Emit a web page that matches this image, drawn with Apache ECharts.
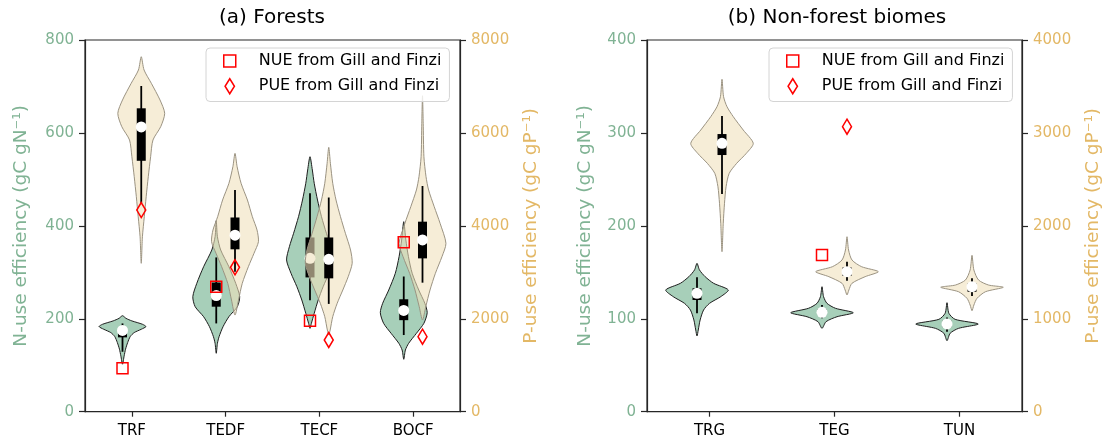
<!DOCTYPE html>
<html><head><meta charset="utf-8">
<script src="https://cdn.jsdelivr.net/npm/echarts@6/dist/echarts.min.js"></script>
<style>html,body{margin:0;padding:0;background:#fff}#chart{width:1104px;height:441px}</style>
</head><body><div id="chart"></div>
<script>
// ---------------- DATA ----------------
const forestCats = ['TRF', 'TEDF', 'TECF', 'BOCF'];
const nonForestCats = ['TRG', 'TEG', 'TUN'];

const nTicksForest = [0, 200, 400, 600, 800];
const pTicksForest = [0, 2000, 4000, 6000, 8000];
const nTicksNonForest = [0, 100, 200, 300, 400];
const pTicksNonForest = [0, 1000, 2000, 3000, 4000];

// violin profiles: [value, relative density], top to bottom
const forestNViolins = [
  [[206.6,0],[200.9,0.15],[195.4,0.4],[188.2,0.85],[183.2,1],[177.4,0.8],[170.3,0.5],[161.7,0.33],[148.8,0.22],[134.5,0.13],[120.1,0.07],[102.2,0]],
  [[411,0],[376.6,0.05],[348,0.19],[312,0.54],[276.3,0.83],[247.5,1],[226,0.9],[204.5,0.54],[183,0.29],[161.4,0.12],[147.2,0.05],[125.7,0]],
  [[548.8,0],[520.2,0.1],[491.6,0.18],[455.6,0.32],[419.7,0.49],[384,0.7],[355.1,0.88],[326.5,1],[297.9,0.81],[269,0.56],[240.4,0.35],[211.8,0.18],[190.3,0.06],[179.4,0]],
  [[409,0],[369.5,0.09],[333.6,0.2],[297.9,0.36],[261.9,0.64],[233.3,0.9],[213.1,1],[190.3,0.86],[168.7,0.54],[147.2,0.21],[132.8,0.07],[112.8,0]]
];
const forestPViolins = [
  [[7640,0],[7354,0.12],[7068,0.43],[6709,0.8],[6422,1],[6134,0.83],[5848,0.5],[5488,0.4],[5058,0.3],[4627,0.21],[4197,0.13],[3766,0.05],[3194,0]],
  [[5560,0],[5273,0.09],[4915,0.26],[4556,0.53],[4197,0.74],[3910,0.94],[3659,1],[3409,0.81],[3121,0.57],[2763,0.31],[2404,0.15],[2080,0]],
  [[5690,0],[5346,0.07],[4916,0.17],[4556,0.31],[4197,0.5],[3840,0.71],[3480,0.93],[3194,1],[2906,0.83],[2619,0.6],[2333,0.36],[2045,0.17],[1758,0.06],[1650,0]],
  [[6800,0],[6207,0.03],[5488,0.06],[5058,0.15],[4772,0.26],[4412,0.5],[4055,0.75],[3624,1],[3336,0.83],[2979,0.55],[2619,0.32],[2260,0.14],[1974,0]]
];
const nonForestNViolins = [
  [[159.7,0],[152.5,0.08],[145.3,0.26],[138.2,0.53],[131,1],[123.8,0.76],[116.6,0.4],[109.4,0.21],[98.7,0.1],[87.9,0.04],[81.5,0]],
  [[134.5,0],[123.8,0.05],[116.6,0.16],[111.3,0.43],[106.5,1],[102.2,0.48],[96.9,0.13],[89.7,0]],
  [[117.3,0],[105.9,0.06],[99.4,0.26],[94.4,1],[89.7,0.37],[84.4,0.1],[76.4,0]]
];
const nonForestPViolins = [
  [[3577,0],[3390,0.05],[3282,0.16],[3175,0.36],[3031,0.68],[2888,1],[2781,0.78],[2673,0.47],[2565,0.23],[2421,0.13],[2243,0.08],[2027,0.04],[1722,0]],
  [[1883,0],[1740,0.05],[1632,0.16],[1560,0.47],[1507,1],[1453,0.58],[1382,0.16],[1310,0.06],[1256,0]],
  [[1683,0],[1525,0.06],[1417,0.21],[1363,0.53],[1339,1],[1291,0.43],[1220,0.16],[1148,0.06],[1087,0]]
];

// box stats: [whiskerLow, q1, median, q3, whiskerHigh]
const forestNBoxes = [[129,160,175,180,190],[190,226,250,278,332],[240,289,330,375,470],[165,197,218,242,291]];
const forestPBoxes = [[4485,5400,6130,6530,7010],[3010,3495,3800,4180,4770],[2320,2870,3280,3750,4610],[2777,3300,3696,4090,4858]];
const nonForestNBoxes = [[105.9,120.2,127.4,132.8,144.6],[100.5,104.5,106.9,110.6,114.8],[86,91,94.4,98,101.3]];
const nonForestPBoxes = [[2343,2762,2888,2988,3182],[1410,1460,1507,1553,1614],[1245,1291,1345,1380,1435]];

// Gill and Finzi reference values
const forestNUE = [93.4, 269, 196, 364.6];
const forestPUE = [4340, 3108, 1543, 1614];
const nonForestNUE = [null, 168.6, null];
const nonForestPUE = [null, 3067, null];

const NUE_NAME = 'NUE from Gill and Finzi';
const PUE_NAME = 'PUE from Gill and Finzi';

// ---------------- STYLE ----------------
const FONT = 'DejaVu Sans';
const GREEN_TXT = '#80b394';
const TAN_TXT = '#e3b866';
const GREEN_FILL = '#a7cfb9';
const GREEN_EDGE = '#1e1e1e';
const TAN_FILL = 'rgba(240,225,188,0.6)';
const TAN_EDGE = '#9b9382';
const AXIS_COL = '#262626';
const OFFSET = 0.1;      // fraction of band
const HALF = 0.25;       // violin max half width, fraction of band

function violinRender(profiles, offset, fill, stroke) {
  return function (params, api) {
    const i = api.value(0);
    const prof = profiles[i];
    const band = api.size([1, 0])[0];
    const cx = api.coord([i, prof[0][0]])[0] + offset * band;
    const half = HALF * band;
    const right = [], left = [];
    prof.forEach(function (p) {
      const y = api.coord([i, p[0]])[1];
      right.push([cx + p[1] * half, y]);
      left.unshift([cx - p[1] * half, y]);
    });
    const pts = right.concat(left.slice(1, -1));
    return { type: 'polygon', shape: { points: pts, smooth: 0.25 },
      style: { fill: fill, stroke: stroke, lineWidth: 1 } };
  };
}
function boxRender(stats, offset) {
  return function (params, api) {
    const i = api.value(0);
    const s = stats[i];
    const band = api.size([1, 0])[0];
    const cx = api.coord([i, s[2]])[0] + offset * band;
    const y = function (v) { return api.coord([i, v])[1]; };
    return { type: 'group', children: [
      { type: 'line', shape: { x1: cx, y1: y(s[0]), x2: cx, y2: y(s[4]) }, style: { stroke: '#000', lineWidth: 1.8 } },
      { type: 'rect', shape: { x: cx - 4.5, y: y(s[3]), width: 9, height: y(s[1]) - y(s[3]) }, style: { fill: '#000' } },
      { type: 'circle', shape: { cx: cx, cy: y(s[2]), r: 5.5 }, style: { fill: '#fff' } }
    ] };
  };
}
function markerRender(offset, kind) {
  return function (params, api) {
    const i = api.value(0);
    const band = api.size([1, 0])[0];
    const pt = api.coord([i, api.value(1)]);
    const x = pt[0] + offset * band, y = pt[1];
    const style = { fill: 'none', stroke: '#ff0000', lineWidth: 1.5 };
    if (kind === 'square') {
      return { type: 'rect', shape: { x: x - 5.5, y: y - 5.5, width: 11, height: 11 }, style: style };
    }
    return { type: 'polygon', shape: { points: [[x, y - 7.5], [x + 4.5, y], [x, y + 7.5], [x - 4.5, y]] }, style: style };
  };
}
function idxData(stats) { return stats.map(function (s, i) { return [i, s[2]]; }); }
function violinData(prof) { return prof.map(function (p, i) { return [i, p[0][0]]; }); }
function markerData(arr) { return arr.map(function (v, i) { return v == null ? null : [i, v]; }).filter(Boolean); }

function xAxisOf(cats, gridIndex) {
  return { type: 'category', gridIndex: gridIndex, data: cats,
    axisLine: { show: true, lineStyle: { color: AXIS_COL, width: 1.2 } },
    axisTick: { show: true, alignWithLabel: true, length: 5, lineStyle: { color: AXIS_COL, width: 1.2 } },
    axisLabel: { color: '#000', fontFamily: FONT, fontSize: 15, margin: 12 },
    splitLine: { show: false } };
}
function yAxisOf(gridIndex, pos, ticks, color, name, gap) {
  return { type: 'value', gridIndex: gridIndex, position: pos,
    min: ticks[0], max: ticks[ticks.length - 1], interval: ticks[1] - ticks[0],
    axisLine: { show: true, lineStyle: { color: AXIS_COL, width: 1.2 } },
    axisTick: { show: true, length: 6, lineStyle: { color: AXIS_COL, width: 1.2 } },
    axisLabel: { color: color, fontFamily: FONT, fontSize: 15, margin: 11,
      formatter: function (v) { return String(v); } },
    splitLine: { show: false },
    name: name, nameLocation: 'middle', nameRotate: 90, nameGap: gap,
    nameTextStyle: { color: color, fontFamily: FONT, fontSize: 18.5 } };
}
function legendOf(left) {
  return { left: left, top: 48, orient: 'vertical', selectedMode: false,
    padding: [5, 8, 7, 17], itemWidth: 12, itemHeight: 15, itemGap: 9,
    backgroundColor: 'rgba(255,255,255,0.8)', borderColor: '#d4d4d4', borderWidth: 1, borderRadius: 4,
    textStyle: { fontFamily: FONT, fontSize: 16, color: '#000', padding: [0, 0, 0, 18], lineHeight: 16 },
    data: [
      { name: NUE_NAME, icon: 'path://M0,0L10,0L10,10L0,10Z', itemStyle: { color: 'transparent', borderColor: '#ff0000', borderWidth: 1.5 } },
      { name: PUE_NAME, icon: 'path://M5,0L10,8L5,16L0,8Z', itemStyle: { color: 'transparent', borderColor: '#ff0000', borderWidth: 1.5 } }
    ] };
}

const option = {
  animation: false,
  backgroundColor: '#fff',
  title: [
    { text: '(a) Forests', left: 272, top: 8, textAlign: 'center', padding: 0,
      textStyle: { fontFamily: FONT, fontSize: 20, fontWeight: 'normal', color: '#000' } },
    { text: '(b) Non-forest biomes', left: 837, top: 8, textAlign: 'center', padding: 0,
      textStyle: { fontFamily: FONT, fontSize: 20, fontWeight: 'normal', color: '#000' } }
  ],
  legend: [legendOf(206), legendOf(769)],
  grid: [
    { left: 85, width: 375, top: 40, bottom: 29.3, show: true, borderColor: AXIS_COL, borderWidth: 1.2, backgroundColor: 'transparent' },
    { left: 647, width: 376, top: 40, bottom: 29.3, show: true, borderColor: AXIS_COL, borderWidth: 1.2, backgroundColor: 'transparent' }
  ],
  xAxis: [xAxisOf(forestCats, 0), xAxisOf(nonForestCats, 1)],
  yAxis: [
    yAxisOf(0, 'left', nTicksForest, GREEN_TXT, 'N-use efficiency (gC gN⁻¹)', 54),
    yAxisOf(0, 'right', pTicksForest, TAN_TXT, 'P-use efficiency (gC gP⁻¹)', 62),
    yAxisOf(1, 'left', nTicksNonForest, GREEN_TXT, 'N-use efficiency (gC gN⁻¹)', 52),
    yAxisOf(1, 'right', pTicksNonForest, TAN_TXT, 'P-use efficiency (gC gP⁻¹)', 62)
  ],
  series: [
    { type: 'custom', xAxisIndex: 0, yAxisIndex: 0, data: violinData(forestNViolins), renderItem: violinRender(forestNViolins, -OFFSET, GREEN_FILL, GREEN_EDGE), silent: true },
    { type: 'custom', xAxisIndex: 0, yAxisIndex: 0, data: idxData(forestNBoxes), renderItem: boxRender(forestNBoxes, -OFFSET), silent: true },
    { type: 'custom', xAxisIndex: 0, yAxisIndex: 1, data: violinData(forestPViolins), renderItem: violinRender(forestPViolins, OFFSET, TAN_FILL, TAN_EDGE), silent: true },
    { type: 'custom', xAxisIndex: 0, yAxisIndex: 1, data: idxData(forestPBoxes), renderItem: boxRender(forestPBoxes, OFFSET), silent: true },
    { type: 'custom', xAxisIndex: 1, yAxisIndex: 2, data: violinData(nonForestNViolins), renderItem: violinRender(nonForestNViolins, -OFFSET, GREEN_FILL, GREEN_EDGE), silent: true },
    { type: 'custom', xAxisIndex: 1, yAxisIndex: 2, data: idxData(nonForestNBoxes), renderItem: boxRender(nonForestNBoxes, -OFFSET), silent: true },
    { type: 'custom', xAxisIndex: 1, yAxisIndex: 3, data: violinData(nonForestPViolins), renderItem: violinRender(nonForestPViolins, OFFSET, TAN_FILL, TAN_EDGE), silent: true },
    { type: 'custom', xAxisIndex: 1, yAxisIndex: 3, data: idxData(nonForestPBoxes), renderItem: boxRender(nonForestPBoxes, OFFSET), silent: true },
    { name: NUE_NAME, type: 'custom', xAxisIndex: 0, yAxisIndex: 0, data: markerData(forestNUE), renderItem: markerRender(-OFFSET, 'square'),
      itemStyle: { color: 'transparent', borderColor: '#ff0000', borderWidth: 1.5 }, z: 5 },
    { name: PUE_NAME, type: 'custom', xAxisIndex: 0, yAxisIndex: 1, data: markerData(forestPUE), renderItem: markerRender(OFFSET, 'diamond'),
      itemStyle: { color: 'transparent', borderColor: '#ff0000', borderWidth: 1.5 }, z: 5 },
    { name: NUE_NAME, type: 'custom', xAxisIndex: 1, yAxisIndex: 2, data: markerData(nonForestNUE), renderItem: markerRender(-OFFSET, 'square'),
      itemStyle: { color: 'transparent', borderColor: '#ff0000', borderWidth: 1.5 }, z: 5 },
    { name: PUE_NAME, type: 'custom', xAxisIndex: 1, yAxisIndex: 3, data: markerData(nonForestPUE), renderItem: markerRender(OFFSET, 'diamond'),
      itemStyle: { color: 'transparent', borderColor: '#ff0000', borderWidth: 1.5 }, z: 5 }
  ]
};
const chart = echarts.init(document.getElementById('chart'));
chart.setOption(option);
</script></body></html>
